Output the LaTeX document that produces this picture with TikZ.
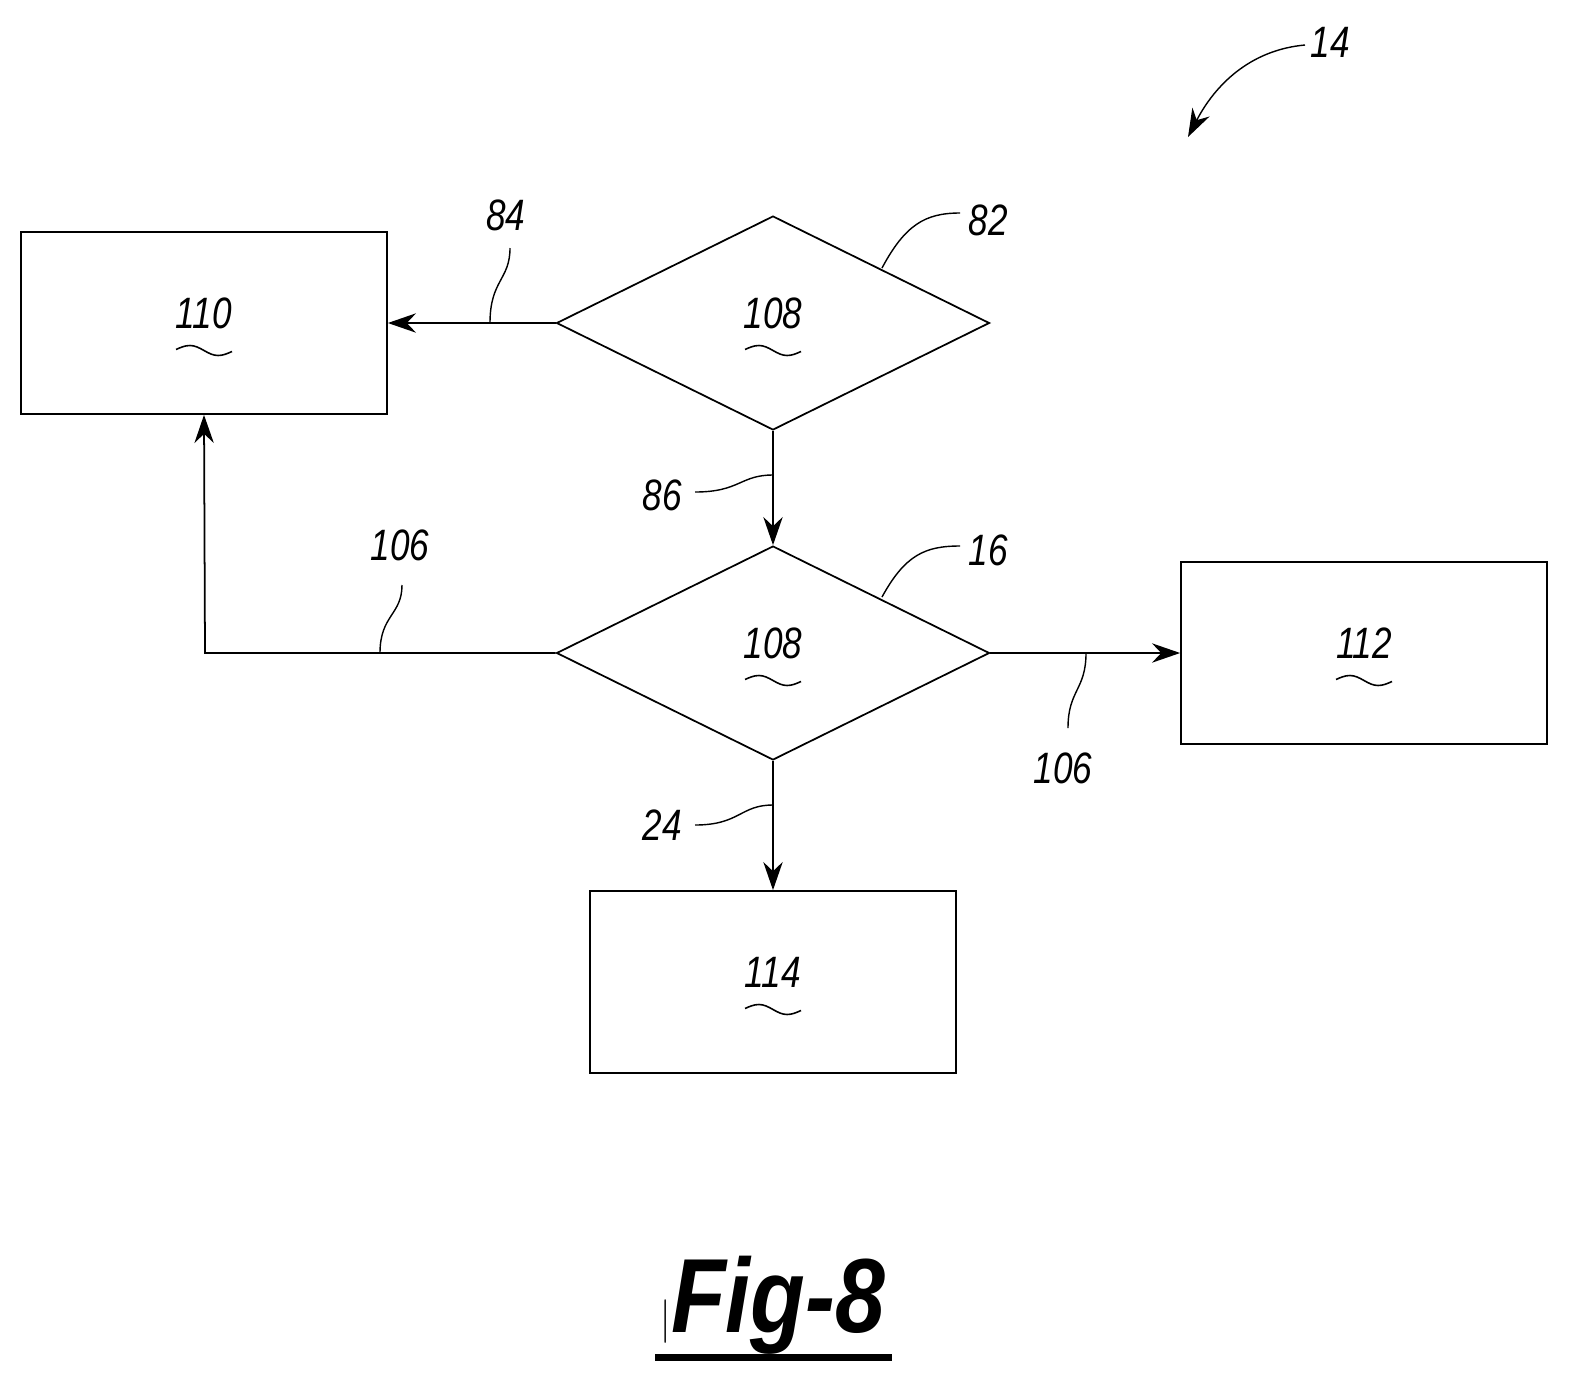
\documentclass[tikz,border=0pt]{standalone}
\usepackage{fontspec}
\setmainfont{Liberation Sans}
\usetikzlibrary{shapes.geometric, arrows.meta, positioning}
\begin{document}
\begin{tikzpicture}[x=0.02cm, y=-0.02cm, line width=1pt,
    every node/.style={font=\fontsize{25}{28}\selectfont\itshape},
    box/.style={draw, rectangle, minimum width=7.32cm, minimum height=3.64cm, inner sep=0pt},
    dec/.style={draw, diamond, minimum width=8.66cm, minimum height=4.28cm, inner sep=0pt},
    arr/.style={-{Stealth[length=16pt,width=11pt]}},
    lead/.style={line width=0.8pt},
    squig/.pic={\draw[line width=0.9pt] (-28,-1) sin (-14,-5) cos (0,0) sin (14,5) cos (28,1);}]
    \useasboundingbox (0,0) rectangle (1586,1397);

    % blocks
    \node[box] (b110) at (204,323) {};
    \node[dec] (d82) at (773,323) {};
    \node[dec] (d16) at (773,653) {};
    \node[box] (b112) at (1364,653) {};
    \node[box] (b114) at (773,982) {};

    % reference numbers inside
    \foreach \n/\t in {b110/110, d82/108, d16/108, b112/112, b114/114} {
        \node at ([yshift=0.2cm]\n.center) {\scalebox{0.8}[1]{\t}};
        \pic at ([yshift=-0.55cm]\n.center) {squig};
    }

    % connectors
    \coordinate (c106) at (205,653);
    \draw[arr] (d82.west) -- (b110.east);
    \draw[arr] (d82.south) -- (d16.north);
    \draw[arr] (d16.west) -- (c106) -- (b110.south);
    \draw[arr] (d16.east) -- (b112.west);
    \draw[arr] (d16.south) -- (b114.north);

    % leaders and labels
    \node (l84) at (506,215) {\scalebox{0.8}[1]{84}};
    \draw[lead] (490,323) .. controls (490,280) and (510,280) .. (510,248);
    \node (l82) at (988,220) {\scalebox{0.8}[1]{82}};
    \draw[lead] (882,268) .. controls (905,225) and (925,213) .. (960,213);
    \node (l86) at (662,495) {\scalebox{0.8}[1]{86}};
    \draw[lead] (695,492) .. controls (740,492) and (740,475) .. (773,475);
    \node (l16) at (988,550) {\scalebox{0.8}[1]{16}};
    \draw[lead] (882,597) .. controls (905,555) and (925,546) .. (960,546);
    \node (l106a) at (400,545) {\scalebox{0.8}[1]{106}};
    \draw[lead] (380,653) .. controls (380,615) and (402,615) .. (402,585);
    \node (l106b) at (1063,768) {\scalebox{0.8}[1]{106}};
    \draw[lead] (1086,653) .. controls (1086,690) and (1068,690) .. (1068,728);
    \node (l24) at (662,825) {\scalebox{0.8}[1]{24}};
    \draw[lead] (695,825) .. controls (740,825) and (740,805) .. (773,805);
    \node (l14) at (1330,42) {\scalebox{0.8}[1]{14}};
    \draw[lead, arr] (1305,45) .. controls (1250,50) and (1215,85) .. (1188,137);

    % figure title
    \node[font=\fontsize{60}{66}\selectfont\bfseries\itshape] (fig) at (773,1305) {\scalebox{0.85}[1]{$|$Fig-8}};
    \draw[line width=4pt] (655,1357) -- (892,1357);
\end{tikzpicture}
\end{document}
